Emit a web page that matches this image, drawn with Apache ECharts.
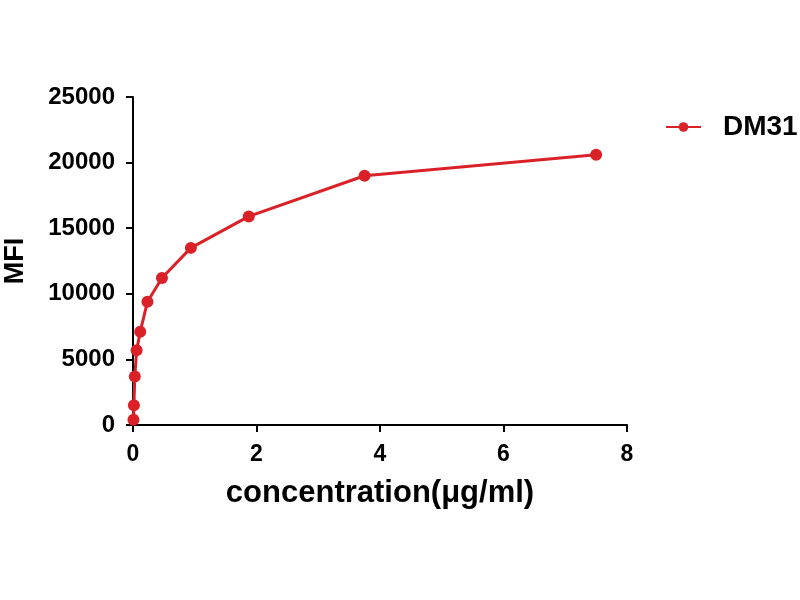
<!DOCTYPE html>
<html>
<head>
<meta charset="utf-8">
<script src="https://cdn.jsdelivr.net/npm/echarts@6/dist/echarts.min.js"></script>
<style>html,body{margin:0;padding:0;background:#fff;}#c{width:800px;height:600px;}</style>
</head>
<body>
<div id="c"></div>
<script>
var seriesName = 'DM31';
var concentrations = [0.0073, 0.0146, 0.0293, 0.0586, 0.117, 0.234, 0.469, 0.9375, 1.875, 3.75, 7.5];
var mfiValues = [400, 1500, 3700, 5700, 7100, 9400, 11200, 13500, 15900, 19000, 20600];
var xTicks = [0, 2, 4, 6, 8];
var yTicks = [0, 5000, 10000, 15000, 20000, 25000];

var red = '#da2128';
var font = '"Liberation Sans", Arial, sans-serif';
var chart = echarts.init(document.getElementById('c'));
chart.setOption({
  backgroundColor: '#fff',
  animation: false,
  grid: {left: 133, right: 173, top: 97, bottom: 175, containLabel: false, outerBoundsMode: 'none'},
  legend: {
    left: 660, top: 108,
    itemWidth: 35, itemHeight: 12,
    textStyle: {fontFamily: font, fontWeight: 'bold', fontSize: 28, color: '#000', padding: [0, 0, 0, 17]},
    data: [seriesName]
  },
  xAxis: {
    type: 'value', min: xTicks[0], max: xTicks[xTicks.length - 1], interval: 2,
    name: 'concentration(μg/ml)', nameLocation: 'middle', nameGap: 53,
    nameTextStyle: {fontFamily: font, fontWeight: 'bold', fontSize: 31, color: '#000'},
    axisLine: {lineStyle: {color: '#000', width: 2}},
    axisTick: {lineStyle: {color: '#000', width: 2}, length: 7},
    axisLabel: {fontFamily: font, fontWeight: 'bold', fontSize: 23, color: '#000', margin: 18},
    splitLine: {show: false}
  },
  yAxis: {
    type: 'value', min: yTicks[0], max: yTicks[yTicks.length - 1], interval: 5000,
    name: 'MFI', nameLocation: 'middle', nameGap: 104,
    nameTextStyle: {fontFamily: font, fontWeight: 'bold', fontSize: 27, color: '#000'},
    axisLine: {lineStyle: {color: '#000', width: 2}},
    axisTick: {lineStyle: {color: '#000', width: 2}, length: 7},
    axisLabel: {fontFamily: font, fontWeight: 'bold', fontSize: 24, color: '#000', margin: 18,
      formatter: function (v) { return String(v); }},
    splitLine: {show: false}
  },
  series: [{
    name: seriesName,
    type: 'line',
    data: concentrations.map(function (c, i) { return [c, mfiValues[i]]; }),
    symbol: 'circle', symbolSize: 12,
    lineStyle: {color: red, width: 3},
    itemStyle: {color: red}
  }]
});
</script>
</body>
</html>
